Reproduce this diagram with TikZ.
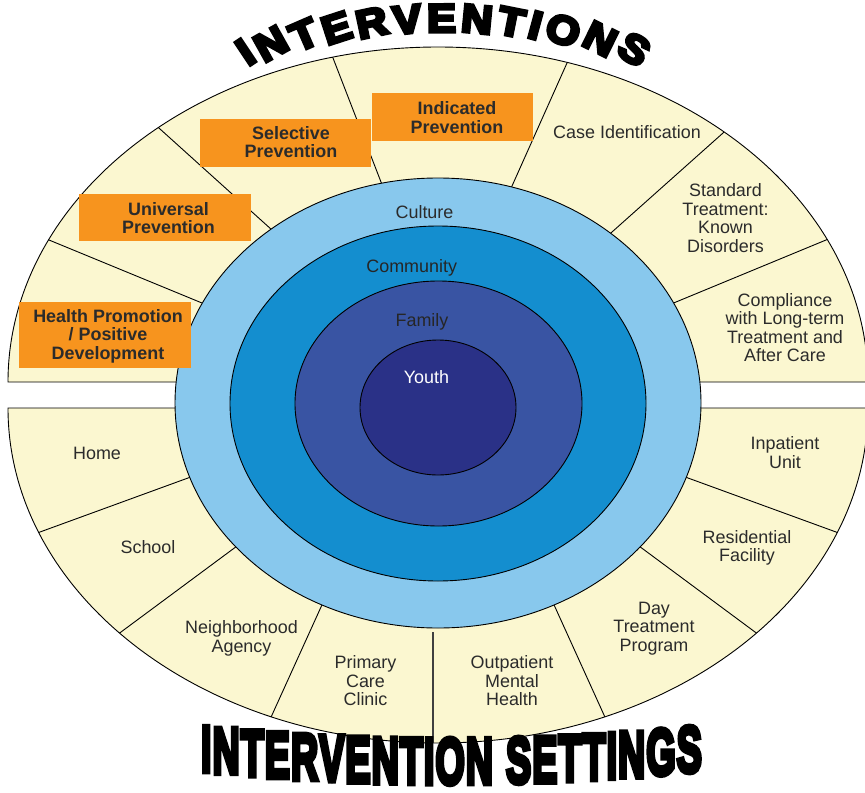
\documentclass[tikz,border=0pt]{standalone}
\usepackage{fontspec}
\usepackage{graphicx}
\setmainfont{Liberation Sans}
\newfontfamily\titlefont[FakeBold=8]{Liberation Sans}
\usetikzlibrary{calc}
\definecolor{cream}{HTML}{FBF7D0}
\definecolor{orangebox}{HTML}{F7941E}
\definecolor{cultureblue}{HTML}{88C8ED}
\definecolor{communityblue}{HTML}{148ECF}
\definecolor{familyblue}{HTML}{3954A3}
\definecolor{youthblue}{HTML}{2A3187}
\definecolor{txt}{HTML}{2B2B2B}
\newcommand\botglyph[1]{\scalebox{0.572}[1]{\titlefont\bfseries\fontsize{66}{66}\selectfont #1}}
\newcommand\topglyph[1]{\scalebox{1.08}[1]{\titlefont\bfseries\fontsize{40}{40}\selectfont #1}}
\begin{document}
\begin{tikzpicture}[x=1bp,y=-1bp,
  sector/.style={fill=cream,draw=black,line width=0.9bp},
  divider/.style={draw=black,line width=0.9bp},
  ring/.style={draw=black,line width=0.9bp},
  lab/.style={font=\fontsize{18}{18.6}\selectfont,text=txt,align=center,inner sep=0pt},
  olab/.style={font=\bfseries\fontsize{18}{18.6}\selectfont,text=txt,align=center,inner sep=0pt},
  obox/.style={fill=orangebox},
]
\useasboundingbox (0,0) rectangle (865,793);

% half ellipses
\path[sector] (8,382) arc[start angle=180,end angle=360,x radius=430,y radius=335] -- cycle;
\path[sector] (8,408) arc[start angle=180,end angle=0,x radius=430,y radius=335] -- cycle;

% end points of dividers
\coordinate (uFi) at (202,303); \coordinate (uFo) at (49,240);
\coordinate (uAi) at (272,230); \coordinate (uAo) at (160,129);
\coordinate (uBi) at (381,182); \coordinate (uBo) at (333,58);
\coordinate (uCi) at (512,186); \coordinate (uCo) at (567,63);
\coordinate (uDi) at (612,232); \coordinate (uDo) at (723,133);
\coordinate (uEi) at (676,302); \coordinate (uEo) at (826,240);
\coordinate (l1i) at (188,478); \coordinate (l1o) at (40,532);
\coordinate (l2i) at (233,549); \coordinate (l2o) at (121,632);
\coordinate (l3i) at (321,607); \coordinate (l3o) at (272,715);
\coordinate (l4i) at (433,632); \coordinate (l4o) at (433,750);
\coordinate (l5i) at (555,607); \coordinate (l5o) at (604,715);
\coordinate (l6i) at (643,549); \coordinate (l6o) at (755,632);
\coordinate (l7i) at (688,478); \coordinate (l7o) at (836,532);

\begin{scope}
\clip (8,382) arc[start angle=180,end angle=360,x radius=430,y radius=335] -- cycle;
\foreach \p in {uF,uA,uB,uC,uD,uE}
  \draw[divider] ($(\p i)!-0.25!(\p o)$) -- ($(\p i)!1.1!(\p o)$);
\end{scope}
\begin{scope}
\clip (8,408) arc[start angle=180,end angle=0,x radius=430,y radius=335] -- cycle;
\foreach \p in {l1,l2,l3,l5,l6,l7}
  \draw[divider] ($(\p i)!-0.25!(\p o)$) -- ($(\p i)!1.1!(\p o)$);
\draw[divider,draw=black!75,line width=1.3bp] (l4i) -- (l4o);
\end{scope}

% concentric rings
\path[ring,fill=cultureblue] (438,403) ellipse[x radius=263,y radius=225];
\path[ring,fill=communityblue] (438,403.5) ellipse[x radius=208,y radius=177.5];
\path[ring,fill=familyblue] (438.5,403.5) ellipse[x radius=143.5,y radius=122.5];
\path[ring,fill=youthblue] (438,407.5) ellipse[x radius=78,y radius=67.5];

\node[lab] (culture) at (424.5,212.5) {Culture};
\node[lab,text=black!85] (community) at (411.7,268) {Community};
\node[lab,text=black!85] (family) at (422,322) {Family};
\node[lab,text=white] (youth) at (426.5,377) {Youth};

% orange boxes
\path[obox] (19,302) rectangle (191,368);
\path[obox] (79,194) rectangle (251,241);
\path[obox] (200,119) rectangle (371,167);
\path[obox] (372,93) rectangle (533,141);
\node[olab] (hp) at (108,336) {Health Promotion\\/ Positive\\Development};
\node[olab] (up) at (168.5,218) {Universal\\Prevention};
\node[olab] (sp) at (291,142) {Selective\\Prevention};
\node[olab] (ip) at (457,117.5) {Indicated\\Prevention};

% sector labels
\node[lab] (caseid) at (627,132) {Case Identification};
\node[lab] (standard) at (725.5,218) {Standard\\Treatment:\\Known\\Disorders};
\node[lab] (compliance) at (785,327.5) {Compliance\\with Long-term\\Treatment and\\After Care};
\node[lab] (inpatient) at (785,452.5) {Inpatient\\Unit};
\node[lab] (residential) at (747,548) {Residential\\Facility};
\node[lab] (day) at (654,628.5) {Day\\Treatment\\Program};
\node[lab] (outpatient) at (512,681) {Outpatient\\Mental\\Health};
\node[lab] (primary) at (365.5,681) {Primary\\Care\\Clinic};
\node[lab] (neigh) at (241.5,638.5) {Neighborhood\\Agency};
\node[lab] (school) at (148,547) {School};
\node[lab] (home) at (97,453) {Home};

% top title along an arc (glyph widths in em, font 40, x1.08)
\xdef\totw{0}
\foreach \ch/\w in {I/.278,N/.722,T/.611,E/.667,R/.722,V/.667,E/.667,N/.722,T/.611,I/.278,O/.778,N/.722,S/.667}{
  \pgfmathsetmacro\tmpv{\totw+\w*43.2+4.2}
  \xdef\totw{\tmpv}
}
\pgfmathsetmacro\tmpv{\totw-4.2}\xdef\totw{\tmpv}
\xdef\cums{0}
\foreach \ch/\w [count=\i] in {I/.278,N/.722,T/.611,E/.667,R/.722,V/.667,E/.667,N/.722,T/.611,I/.278,O/.778,N/.722,S/.667}{
  \pgfmathsetmacro\ang{(\cums+0.5*\w*43.2-0.5*\totw)/596*57.29578}
  \pgfmathsetmacro\px{444+596*sin(\ang)}
  \pgfmathsetmacro\py{628-596*cos(\ang)}
  \pgfmathsetmacro\rt{-1.8*\ang}
  \node[anchor=base,inner sep=0pt,rotate=\rt] (tt\i) at (\px,\py) {\topglyph{\ch}};
  \pgfmathsetmacro\tmpv{\cums+\w*43.2+4.2}
  \xdef\cums{\tmpv}
}

% bottom title, upright letters on a curve (width = em * 66 * 0.572)
\xdef\curx{201}
\foreach \ch/\w [count=\i] in {I/.278,N/.722,T/.611,E/.667,R/.722,V/.667,E/.667,N/.722,T/.611,I/.278,O/.778,N/.722}{
  \pgfmathsetmacro\cx{\curx+0.5*\w*37.75}
  \pgfmathsetmacro\by{771+13*(1-((\cx-450)/250)^2)}
  \node[anchor=base,inner sep=0pt] (ba\i) at (\cx,\by) {\botglyph{\ch}};
  \pgfmathsetmacro\tmpv{\curx+\w*37.75+1}
  \xdef\curx{\tmpv}
}
\pgfmathsetmacro\tmpv{\curx+12}\xdef\curx{\tmpv}
\foreach \ch/\w [count=\i] in {S/.667,E/.667,T/.611,T/.611,I/.278,N/.722,G/.778,S/.667}{
  \pgfmathsetmacro\cx{\curx+0.5*\w*37.75}
  \pgfmathsetmacro\by{771+13*(1-((\cx-450)/250)^2)}
  \node[anchor=base,inner sep=0pt] (bb\i) at (\cx,\by) {\botglyph{\ch}};
  \pgfmathsetmacro\tmpv{\curx+\w*37.75+1}
  \xdef\curx{\tmpv}
}
\end{tikzpicture}
\end{document}
